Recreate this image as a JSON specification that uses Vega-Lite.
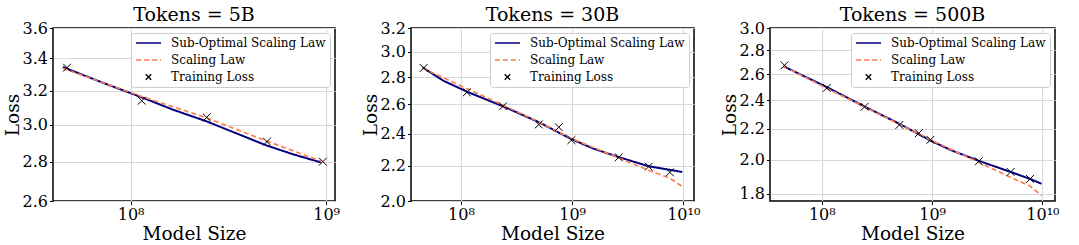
{
  "$schema": "https://vega.github.io/schema/vega-lite/v6.json",
  "padding": {"left": 2, "top": 5, "right": 2, "bottom": 0},
  "datasets": {
    "d": [
      {"panel": "5B", "series": "Sub-Optimal Scaling Law", "N": 4.5e7, "loss": 3.345},
      {"panel": "5B", "series": "Sub-Optimal Scaling Law", "N": 7.2e7, "loss": 3.248},
      {"panel": "5B", "series": "Sub-Optimal Scaling Law", "N": 1.14e8, "loss": 3.16},
      {"panel": "5B", "series": "Sub-Optimal Scaling Law", "N": 1.64e8, "loss": 3.088},
      {"panel": "5B", "series": "Sub-Optimal Scaling Law", "N": 2.45e8, "loss": 3.02},
      {"panel": "5B", "series": "Sub-Optimal Scaling Law", "N": 3.6e8, "loss": 2.946},
      {"panel": "5B", "series": "Sub-Optimal Scaling Law", "N": 4.97e8, "loss": 2.886},
      {"panel": "5B", "series": "Sub-Optimal Scaling Law", "N": 6.76e8, "loss": 2.839},
      {"panel": "5B", "series": "Sub-Optimal Scaling Law", "N": 9.4e8, "loss": 2.796},
      {"panel": "5B", "series": "Scaling Law", "N": 4.5e7, "loss": 3.337},
      {"panel": "5B", "series": "Scaling Law", "N": 1.14e8, "loss": 3.165},
      {"panel": "5B", "series": "Scaling Law", "N": 2.45e8, "loss": 3.04},
      {"panel": "5B", "series": "Scaling Law", "N": 4.97e8, "loss": 2.91},
      {"panel": "5B", "series": "Scaling Law", "N": 9.4e8, "loss": 2.803},
      {"panel": "5B", "series": "Training Loss", "N": 4.73e7, "loss": 3.341},
      {"panel": "5B", "series": "Training Loss", "N": 1.14e8, "loss": 3.14},
      {"panel": "5B", "series": "Training Loss", "N": 2.45e8, "loss": 3.043},
      {"panel": "5B", "series": "Training Loss", "N": 4.98e8, "loss": 2.907},
      {"panel": "5B", "series": "Training Loss", "N": 9.62e8, "loss": 2.8},

      {"panel": "30B", "series": "Sub-Optimal Scaling Law", "N": 4.5e7, "loss": 2.876},
      {"panel": "30B", "series": "Sub-Optimal Scaling Law", "N": 6.98e7, "loss": 2.772},
      {"panel": "30B", "series": "Sub-Optimal Scaling Law", "N": 1.13e8, "loss": 2.692},
      {"panel": "30B", "series": "Sub-Optimal Scaling Law", "N": 2.39e8, "loss": 2.587},
      {"panel": "30B", "series": "Sub-Optimal Scaling Law", "N": 5.01e8, "loss": 2.478},
      {"panel": "30B", "series": "Sub-Optimal Scaling Law", "N": 9.87e8, "loss": 2.366},
      {"panel": "30B", "series": "Sub-Optimal Scaling Law", "N": 1.57e9, "loss": 2.305},
      {"panel": "30B", "series": "Sub-Optimal Scaling Law", "N": 2.63e9, "loss": 2.253},
      {"panel": "30B", "series": "Sub-Optimal Scaling Law", "N": 4.89e9, "loss": 2.198},
      {"panel": "30B", "series": "Sub-Optimal Scaling Law", "N": 9.8e9, "loss": 2.164},
      {"panel": "30B", "series": "Scaling Law", "N": 4.5e7, "loss": 2.871},
      {"panel": "30B", "series": "Scaling Law", "N": 1.13e8, "loss": 2.714},
      {"panel": "30B", "series": "Scaling Law", "N": 2.39e8, "loss": 2.595},
      {"panel": "30B", "series": "Scaling Law", "N": 5.01e8, "loss": 2.48},
      {"panel": "30B", "series": "Scaling Law", "N": 9.87e8, "loss": 2.37},
      {"panel": "30B", "series": "Scaling Law", "N": 2.63e9, "loss": 2.248},
      {"panel": "30B", "series": "Scaling Law", "N": 4.89e9, "loss": 2.174},
      {"panel": "30B", "series": "Scaling Law", "N": 7.58e9, "loss": 2.128},
      {"panel": "30B", "series": "Scaling Law", "N": 9.8e9, "loss": 2.08},
      {"panel": "30B", "series": "Training Loss", "N": 4.62e7, "loss": 2.871},
      {"panel": "30B", "series": "Training Loss", "N": 1.13e8, "loss": 2.687},
      {"panel": "30B", "series": "Training Loss", "N": 2.39e8, "loss": 2.587},
      {"panel": "30B", "series": "Training Loss", "N": 5.01e8, "loss": 2.462},
      {"panel": "30B", "series": "Training Loss", "N": 7.59e8, "loss": 2.444},
      {"panel": "30B", "series": "Training Loss", "N": 9.87e8, "loss": 2.36},
      {"panel": "30B", "series": "Training Loss", "N": 2.63e9, "loss": 2.252},
      {"panel": "30B", "series": "Training Loss", "N": 4.89e9, "loss": 2.196},
      {"panel": "30B", "series": "Training Loss", "N": 7.58e9, "loss": 2.162},

      {"panel": "500B", "series": "Sub-Optimal Scaling Law", "N": 4.5e7, "loss": 2.666},
      {"panel": "500B", "series": "Sub-Optimal Scaling Law", "N": 1.11e8, "loss": 2.5},
      {"panel": "500B", "series": "Sub-Optimal Scaling Law", "N": 2.44e8, "loss": 2.355},
      {"panel": "500B", "series": "Sub-Optimal Scaling Law", "N": 5.05e8, "loss": 2.233},
      {"panel": "500B", "series": "Sub-Optimal Scaling Law", "N": 9.66e8, "loss": 2.12},
      {"panel": "500B", "series": "Sub-Optimal Scaling Law", "N": 1.52e9, "loss": 2.056},
      {"panel": "500B", "series": "Sub-Optimal Scaling Law", "N": 2.65e9, "loss": 1.992},
      {"panel": "500B", "series": "Sub-Optimal Scaling Law", "N": 5.15e9, "loss": 1.925},
      {"panel": "500B", "series": "Sub-Optimal Scaling Law", "N": 7.72e9, "loss": 1.884},
      {"panel": "500B", "series": "Sub-Optimal Scaling Law", "N": 9.8e9, "loss": 1.856},
      {"panel": "500B", "series": "Scaling Law", "N": 4.5e7, "loss": 2.668},
      {"panel": "500B", "series": "Scaling Law", "N": 1.11e8, "loss": 2.49},
      {"panel": "500B", "series": "Scaling Law", "N": 2.44e8, "loss": 2.353},
      {"panel": "500B", "series": "Scaling Law", "N": 9.66e8, "loss": 2.125},
      {"panel": "500B", "series": "Scaling Law", "N": 2.65e9, "loss": 1.983},
      {"panel": "500B", "series": "Scaling Law", "N": 5.15e9, "loss": 1.893},
      {"panel": "500B", "series": "Scaling Law", "N": 7.72e9, "loss": 1.843},
      {"panel": "500B", "series": "Scaling Law", "N": 9.8e9, "loss": 1.79},
      {"panel": "500B", "series": "Training Loss", "N": 4.59e7, "loss": 2.674},
      {"panel": "500B", "series": "Training Loss", "N": 1.11e8, "loss": 2.494},
      {"panel": "500B", "series": "Training Loss", "N": 2.44e8, "loss": 2.353},
      {"panel": "500B", "series": "Training Loss", "N": 5.05e8, "loss": 2.225},
      {"panel": "500B", "series": "Training Loss", "N": 7.57e8, "loss": 2.169},
      {"panel": "500B", "series": "Training Loss", "N": 9.66e8, "loss": 2.125},
      {"panel": "500B", "series": "Training Loss", "N": 2.65e9, "loss": 1.989},
      {"panel": "500B", "series": "Training Loss", "N": 5.15e9, "loss": 1.925},
      {"panel": "500B", "series": "Training Loss", "N": 7.72e9, "loss": 1.884}
    ]
  },
  "bounds": "flush",
  "spacing": 76,
  "resolve": {
    "scale": {"x": "independent", "y": "independent", "color": "independent", "shape": "independent", "strokeDash": "independent"},
    "legend": {"color": "independent", "shape": "independent", "strokeDash": "independent"}
  },
  "hconcat": [
    {
      "width": 282, "height": 173,
      "title": "Tokens = 5B",
      "data": {"name": "d"},
      "transform": [{"filter": "datum.panel === '5B'"}],
      "encoding": {
        "x": {"field": "N", "type": "quantitative",
          "scale": {"type": "log", "domain": [4.01e7, 1.11e9], "nice": false},
          "axis": {"values": [1e8, 1e9], "labelExpr": "datum.value < 5e8 ? '10⁸' : (datum.value < 5e9 ? '10⁹' : '10¹⁰')", "title": "Model Size"}},
        "y": {"field": "loss", "type": "quantitative",
          "scale": {"type": "log", "domain": [2.6, 3.6], "nice": false, "zero": false},
          "axis": {"values": [2.6, 2.8, 3.0, 3.2, 3.4, 3.6], "format": ".1f", "title": "Loss"}},
        "color": {"field": "series", "type": "nominal",
          "scale": {"domain": ["Sub-Optimal Scaling Law", "Scaling Law", "Training Loss"], "range": ["#000080", "#ff7f50", "#000000"]},
          "legend": {"title": null}}
      },
      "layer": [
        {"transform": [{"filter": "datum.series === 'Sub-Optimal Scaling Law'"}], "mark": {"type": "line", "strokeWidth": 2},
         "encoding": {"strokeDash": {"field": "series", "type": "nominal", "scale": {"domain": ["Sub-Optimal Scaling Law", "Scaling Law", "Training Loss"], "range": [[1, 0], [5, 3], [1, 0]]}, "legend": {"title": null}}}},
        {"transform": [{"filter": "datum.series === 'Scaling Law'"}], "mark": {"type": "line", "strokeWidth": 1.7},
         "encoding": {"strokeDash": {"field": "series", "type": "nominal", "scale": {"domain": ["Sub-Optimal Scaling Law", "Scaling Law", "Training Loss"], "range": [[1, 0], [5, 3], [1, 0]]}, "legend": {"title": null}}}},
        {"transform": [{"filter": "datum.series === 'Training Loss'"}], "mark": {"type": "point", "filled": false, "size": 1260, "strokeWidth": 1, "opacity": 1},
         "encoding": {"shape": {"field": "series", "type": "nominal", "scale": {"domain": ["Sub-Optimal Scaling Law", "Scaling Law", "Training Loss"], "range": ["stroke", "stroke", "M-0.22,-0.22L0.22,0.22M-0.22,0.22L0.22,-0.22"]}, "legend": {"title": null}}}}
      ]
    },
    {
      "width": 283, "height": 173,
      "title": "Tokens = 30B",
      "data": {"name": "d"},
      "transform": [{"filter": "datum.panel === '30B'"}],
      "encoding": {
        "x": {"field": "N", "type": "quantitative",
          "scale": {"type": "log", "domain": [3.55e7, 1.25e10], "nice": false},
          "axis": {"values": [1e8, 1e9, 1e10], "labelExpr": "datum.value < 5e8 ? '10⁸' : (datum.value < 5e9 ? '10⁹' : '10¹⁰')", "title": "Model Size"}},
        "y": {"field": "loss", "type": "quantitative",
          "scale": {"type": "log", "domain": [2.0, 3.2], "nice": false, "zero": false},
          "axis": {"values": [2.0, 2.2, 2.4, 2.6, 2.8, 3.0, 3.2], "format": ".1f", "title": "Loss"}},
        "color": {"field": "series", "type": "nominal",
          "scale": {"domain": ["Sub-Optimal Scaling Law", "Scaling Law", "Training Loss"], "range": ["#000080", "#ff7f50", "#000000"]},
          "legend": {"title": null}}
      },
      "layer": [
        {"transform": [{"filter": "datum.series === 'Sub-Optimal Scaling Law'"}], "mark": {"type": "line", "strokeWidth": 2},
         "encoding": {"strokeDash": {"field": "series", "type": "nominal", "scale": {"domain": ["Sub-Optimal Scaling Law", "Scaling Law", "Training Loss"], "range": [[1, 0], [5, 3], [1, 0]]}, "legend": {"title": null}}}},
        {"transform": [{"filter": "datum.series === 'Scaling Law'"}], "mark": {"type": "line", "strokeWidth": 1.7},
         "encoding": {"strokeDash": {"field": "series", "type": "nominal", "scale": {"domain": ["Sub-Optimal Scaling Law", "Scaling Law", "Training Loss"], "range": [[1, 0], [5, 3], [1, 0]]}, "legend": {"title": null}}}},
        {"transform": [{"filter": "datum.series === 'Training Loss'"}], "mark": {"type": "point", "filled": false, "size": 1260, "strokeWidth": 1, "opacity": 1},
         "encoding": {"shape": {"field": "series", "type": "nominal", "scale": {"domain": ["Sub-Optimal Scaling Law", "Scaling Law", "Training Loss"], "range": ["stroke", "stroke", "M-0.22,-0.22L0.22,0.22M-0.22,0.22L0.22,-0.22"]}, "legend": {"title": null}}}}
      ]
    },
    {
      "width": 285, "height": 173,
      "title": "Tokens = 500B",
      "data": {"name": "d"},
      "transform": [{"filter": "datum.panel === '500B'"}],
      "encoding": {
        "x": {"field": "N", "type": "quantitative",
          "scale": {"type": "log", "domain": [3.39e7, 1.3e10], "nice": false},
          "axis": {"values": [1e8, 1e9, 1e10], "labelExpr": "datum.value < 5e8 ? '10⁸' : (datum.value < 5e9 ? '10⁹' : '10¹⁰')", "title": "Model Size"}},
        "y": {"field": "loss", "type": "quantitative",
          "scale": {"type": "log", "domain": [1.76, 3.0], "nice": false, "zero": false},
          "axis": {"values": [1.8, 2.0, 2.2, 2.4, 2.6, 2.8, 3.0], "format": ".1f", "title": "Loss"}},
        "color": {"field": "series", "type": "nominal",
          "scale": {"domain": ["Sub-Optimal Scaling Law", "Scaling Law", "Training Loss"], "range": ["#000080", "#ff7f50", "#000000"]},
          "legend": {"title": null}}
      },
      "layer": [
        {"transform": [{"filter": "datum.series === 'Sub-Optimal Scaling Law'"}], "mark": {"type": "line", "strokeWidth": 2},
         "encoding": {"strokeDash": {"field": "series", "type": "nominal", "scale": {"domain": ["Sub-Optimal Scaling Law", "Scaling Law", "Training Loss"], "range": [[1, 0], [5, 3], [1, 0]]}, "legend": {"title": null}}}},
        {"transform": [{"filter": "datum.series === 'Scaling Law'"}], "mark": {"type": "line", "strokeWidth": 1.7},
         "encoding": {"strokeDash": {"field": "series", "type": "nominal", "scale": {"domain": ["Sub-Optimal Scaling Law", "Scaling Law", "Training Loss"], "range": [[1, 0], [5, 3], [1, 0]]}, "legend": {"title": null}}}},
        {"transform": [{"filter": "datum.series === 'Training Loss'"}], "mark": {"type": "point", "filled": false, "size": 1260, "strokeWidth": 1, "opacity": 1},
         "encoding": {"shape": {"field": "series", "type": "nominal", "scale": {"domain": ["Sub-Optimal Scaling Law", "Scaling Law", "Training Loss"], "range": ["stroke", "stroke", "M-0.22,-0.22L0.22,0.22M-0.22,0.22L0.22,-0.22"]}, "legend": {"title": null}}}}
      ]
    }
  ],
  "config": {
    "font": "DejaVu Serif",
    "view": {"stroke": "black", "strokeWidth": 1.5},
    "axis": {"labelFont": "DejaVu Serif", "labelFontSize": 16, "labelColor": "black", "titleFont": "DejaVu Serif", "titleFontSize": 18.5, "titleFontWeight": "normal", "titleColor": "black", "grid": true, "gridColor": "#d9d9d9", "gridWidth": 1.2, "domain": false, "tickColor": "black", "tickSize": 3.5, "labelPadding": 2},
    "axisX": {"titlePadding": 2},
    "axisY": {"titlePadding": 0},
    "title": {"font": "DejaVu Serif", "fontSize": 19, "fontWeight": "normal", "color": "black", "baseline": "alphabetic", "offset": -5},
    "legend": {"orient": "top-right", "offset": 5, "padding": 4, "rowPadding": 5, "labelOffset": 9, "symbolSize": 625, "clipHeight": 12, "labelFont": "DejaVu Serif", "labelFontSize": 12, "labelColor": "black", "fillColor": "white", "strokeColor": "#cccccc", "cornerRadius": 3, "labelLimit": 300, "symbolStrokeWidth": 1.4, "symbolOpacity": 1}
  }
}
